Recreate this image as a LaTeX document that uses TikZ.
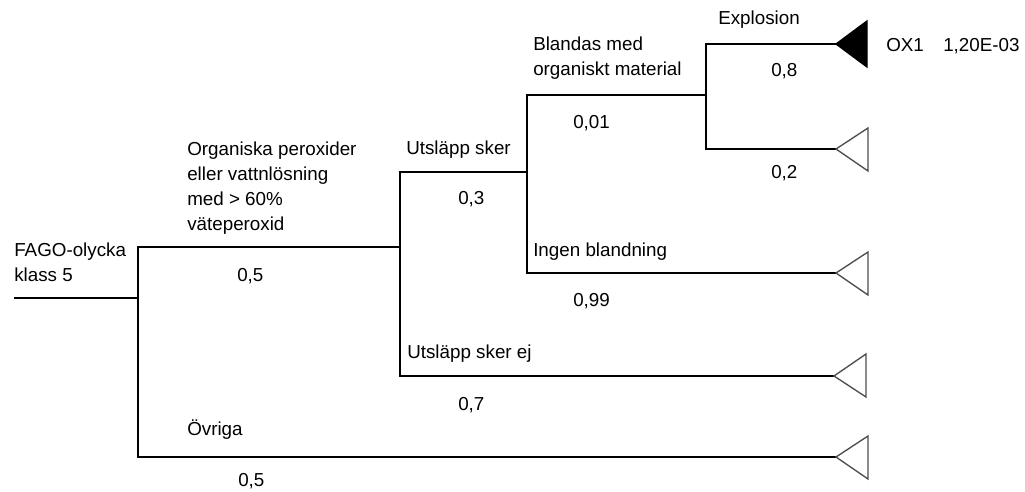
\documentclass[tikz,border=0pt]{standalone}
\usepackage{fontspec}
\setmainfont{Liberation Sans}
\begin{document}
\begin{tikzpicture}[x=0.75pt,y=-0.75pt,
  branch/.style={line width=1.6pt,black},
  leaf/.style={line width=1pt,draw=black!70,fill=white,line join=miter},
  leafx/.style={leaf,fill=black,draw=black},
  lbl/.style={anchor=base west,inner sep=0pt,font=\fontsize{14.1}{18.75}\selectfont,align=left}]
\useasboundingbox (0,0) rectangle (1025,492);
% junctions
\coordinate (start) at (14,298);
\coordinate (n1) at (138,298);
\coordinate (n2) at (400,247);
\coordinate (n3) at (527,172);
\coordinate (n4) at (706,95);
\coordinate (t1) at (836,44);
\coordinate (t2) at (836,149);
\coordinate (t3) at (836,273);
\coordinate (t4) at (834,376);
\coordinate (t5) at (836,457);
% connectors
\draw[branch] (start) -- (n1);
\draw[branch] (n1) |- (n2);
\draw[branch] (n1) |- (t5);
\draw[branch] (n2) |- (n3);
\draw[branch] (n2) |- (t4);
\draw[branch] (n3) |- (n4);
\draw[branch] (n3) |- (t3);
\draw[branch] (n4) |- (t1);
\draw[branch] (n4) |- (t2);
% end triangles
\draw[leafx] (t1) -- ++(31,-23) -- ++(0,46) -- cycle;
\draw[leaf] (t2) -- ++(32,-21) -- ++(0,43) -- cycle;
\draw[leaf] (t3) -- ++(32,-21) -- ++(0,43) -- cycle;
\draw[leaf] (t4) -- ++(32,-22) -- ++(0,43) -- cycle;
\draw[leaf] (t5) -- ++(32,-21) -- ++(0,43) -- cycle;
% labels (multi-line: base = last line)
\node[lbl] (lroot) at (14,281) {FAGO-olycka\\klass 5};
\node[lbl] (lorg) at (187,230) {Organiska peroxider\\eller vattnlösning\\med > 60\%\\väteperoxid};
\node[lbl] (p1) at (237,281) {0,5};
\node[lbl] (lovr) at (187,435) {Övriga};
\node[lbl] (p2) at (238,486) {0,5};
\node[lbl] (lutt) at (406,154) {Utsläpp sker};
\node[lbl] (p3) at (458,204) {0,3};
\node[lbl] (lutej) at (407,358) {Utsläpp sker ej};
\node[lbl] (p4) at (458,410) {0,7};
\node[lbl] (lbla) at (533,75) {Blandas med\\organiskt material};
\node[lbl] (p5) at (573,128) {0,01};
\node[lbl] (ling) at (533,256) {Ingen blandning};
\node[lbl] (p6) at (573,306) {0,99};
\node[lbl] (lexp) at (718,25) {Explosion};
\node[lbl] (p7) at (771,77) {0,8};
\node[lbl] (p8) at (771,178) {0,2};
\node[lbl] (lox) at (886,52) {OX1};
\node[lbl] (lval) at (943,52) {1,20E-03};
\end{tikzpicture}
\end{document}
